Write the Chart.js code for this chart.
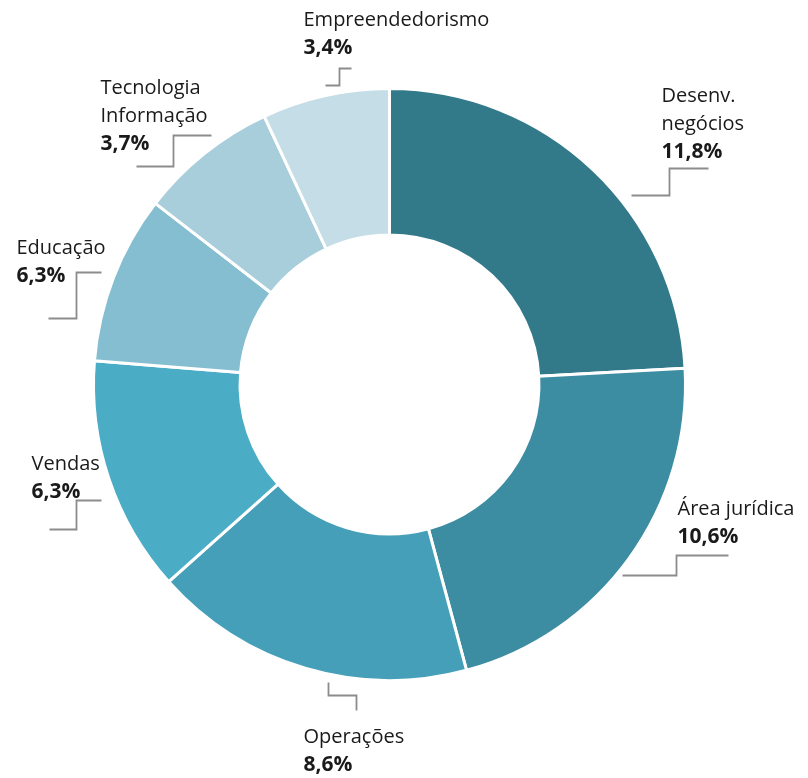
<!DOCTYPE html>
<html><head><meta charset="utf-8">
<script src="https://cdn.jsdelivr.net/npm/chart.js@4.4.1/dist/chart.umd.min.js"></script>
<style>html,body{margin:0;padding:0;background:#fff;overflow:hidden;} canvas{display:block;}</style>
</head><body>
<canvas id="c" width="808" height="778"></canvas>
<script>
// ---- data ----
const categories = [["Desenv.", "negócios"], ["Área jurídica"], ["Operações"], ["Vendas"], ["Educação"], ["Tecnologia", "Informação"], ["Empreendedorismo"]];
const values = [11.8, 10.6, 8.6, 6.3, 4.5, 3.7, 3.4];
const valueLabels = ["11,8%", "10,6%", "8,6%", "6,3%", "6,3%", "3,7%", "3,4%"];

// ---- style / layout ----
const colors = ["#327a8a", "#3c8ca2", "#459fb8", "#4bacc6", "#85bed1", "#a8cddb", "#c4dde6"];
// text anchor (left, first baseline) and leader polylines, offsets from the doughnut centre
const labelLayout = [
  {tx: 272, ty: -283, line: [[242,-189],[280,-189],[280,-216],[319,-216]]},
  {tx: 288, ty: 130,  line: [[233,191],[287,191],[287,171],[339,171]]},
  {tx: -86, ty: 358,  line: [[-61,298],[-61,311],[-33,311],[-33,326]]},
  {tx: -358, ty: 85,  line: [[-340,145],[-313,145],[-313,116],[-288,116]]},
  {tx: -373, ty: -131, line: [[-341,-66],[-313,-66],[-313,-112],[-288,-112]]},
  {tx: -289, ty: -291, line: [[-253,-218],[-216,-218],[-216,-249],[-178,-249]]},
  {tx: -86, ty: -359, line: [[-64,-299],[-50,-299],[-50,-316],[-38,-316]]}
];
const FONT = '"Open Sans", sans-serif';
const LINE_H = 28;

const labelPlugin = {
  id: 'calloutLabels',
  afterDatasetsDraw(chart) {
    const ctx = chart.ctx;
    const meta = chart.getDatasetMeta(0);
    meta.data.forEach((arc, i) => {
      const cx = arc.x, cy = arc.y;
      const L = labelLayout[i];
      ctx.save();
      ctx.strokeStyle = '#8c8c8c';
      ctx.lineWidth = 1.8;
      ctx.beginPath();
      L.line.forEach((p, k) => {
        if (k === 0) ctx.moveTo(cx + p[0], cy + p[1]);
        else ctx.lineTo(cx + p[0], cy + p[1]);
      });
      ctx.stroke();
      ctx.fillStyle = '#1a1a1a';
      ctx.textAlign = 'left';
      ctx.textBaseline = 'alphabetic';
      const lines = chart.data.labels[i];
      let y = cy + L.ty;
      ctx.font = '20px ' + FONT;
      lines.forEach(t => { ctx.fillText(t, cx + L.tx, y); y += LINE_H; });
      ctx.font = 'bold 21px ' + FONT;
      ctx.fillText(valueLabels[i], cx + L.tx, y);
      ctx.restore();
    });
  }
};

new Chart(document.getElementById('c'), {
  type: 'doughnut',
  data: {
    labels: categories,
    datasets: [{
      data: values,
      backgroundColor: colors,
      borderColor: '#ffffff',
      borderWidth: 3
    }]
  },
  options: {
    responsive: false,
    animation: false,
    cutout: '50.5%',
    layout: {padding: {left: 92, right: 121, top: 87, bottom: 96}},
    plugins: {legend: {display: false}, tooltip: {enabled: false}}
  },
  plugins: [labelPlugin]
});
</script>
</body></html>
